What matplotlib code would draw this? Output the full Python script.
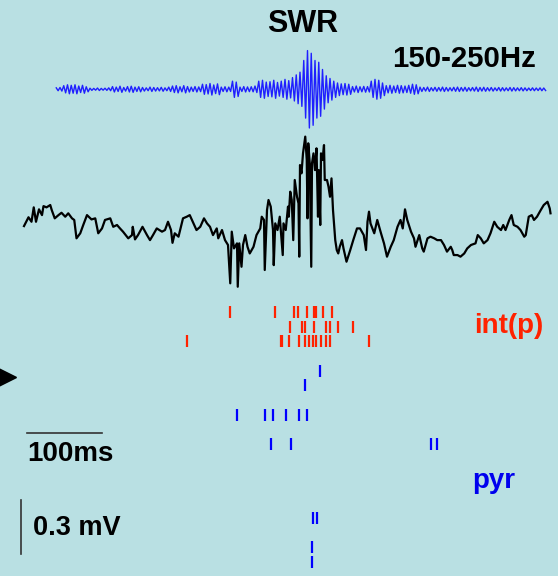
import numpy as np
import matplotlib.pyplot as plt

# broadband LFP around the sharp-wave ripple (time in ms, amplitude in uV)
lfp_t = [0, 6, 10, 13, 16, 20, 24, 26, 30, 35, 37, 41, 46, 50, 55, 59, 64, 67, 70, 75,
         79, 84, 90, 95, 99, 104, 108, 115, 119, 124, 128, 132, 139, 144, 145, 148, 152, 158, 164, 168,
         172, 177, 184, 188, 192, 196, 198, 201, 206, 212, 217, 221, 226, 230, 235, 240, 244, 248, 252, 257,
         259, 264, 268, 272, 275, 277, 280, 284, 285, 287, 290, 292, 295, 298, 301, 306, 310, 315, 317, 320,
         321, 324, 326, 329, 332, 333, 335, 338, 341, 345, 346, 349, 352, 353, 355, 357, 359, 361, 364, 366,
         367, 368, 370, 372, 375, 377, 378, 379, 381, 383, 384, 386, 388, 390, 392, 393, 395, 396, 398, 400,
         401, 404, 406, 408, 410, 412, 415, 417, 419, 421, 424, 426, 430, 435, 439, 444, 448, 453, 456, 458,
         460, 462, 467, 471, 476, 480, 484, 489, 493, 498, 502, 505, 508, 511, 516, 520, 522, 527, 531, 533,
         538, 542, 547, 551, 556, 560, 564, 569, 571, 573, 578, 582, 587, 591, 596, 602, 605, 609, 613, 618,
         622, 627, 631, 636, 639, 642, 647, 650, 653, 658, 662, 667, 669, 673, 677, 680, 684, 689, 693, 698,
         701, 702]
lfp_uv = [22, 71, 46, 126, 46, 115, 83, 133, 126, 139, 111, 65, 83, 96, 74, 93, 65, 56, -46, -18,
          28, 83, 59, 65, -18, 9, 56, 65, 18, 28, 9, -9, -46, -28, 18, -52, -28, 18, -28, -56,
          -28, 9, -9, 0, 46, 0, -71, -18, -37, 65, 74, 83, 37, 0, 18, 65, 37, 18, -28, 9,
          -46, 0, -56, -83, -296, -9, -102, -74, -315, -74, -204, -83, -28, -93, -130, -93, -28, 9, 74, 56,
          -222, 111, 167, 130, 0, -195, 37, 0, 74, -139, 37, 0, 130, 74, 213, 167, -56, 278, 185, 148,
          -148, 361, 315, 426, 519, 389, 65, 482, 371, -204, 371, 426, 333, 454, 74, 333, 28, 426, 389, 472,
          278, 278, 241, 185, 287, 111, -56, -111, -130, -93, -56, -102, -176, -111, -56, 9, 9, -28, -111, 46,
          102, 37, -18, 56, -18, -74, -148, -93, -56, 18, 56, 9, 115, 56, -9, -46, -93, -28, -102, -120,
          -46, -37, -46, -56, -56, -83, -120, -93, -111, -139, -139, -148, -130, -102, -83, -74, -28, -46, -74, -56,
          -18, 46, 18, 0, 28, 0, 56, 83, 28, 18, 0, -37, -28, 74, 83, 56, 74, 111, 139, 157,
          120, 93]

# 150-250 Hz band: peak amplitude of each ripple cycle (uV)
ripple_start = 43   # ms
ripple_period = 5   # ms
ripple_amp = [8, 10,
              20, 25, 22, 25, 18, 22, 14,
              6, 5, 7, 5, 6, 8,
              15, 12, 17, 10, 15, 17, 12, 14,
              10, 8, 12, 10, 9, 11, 8, 12,
              18, 20, 14, 20, 15,
              12, 15, 13,
              28, 26, 32, 24, 30,
              12, 14, 12,
              45, 40,
              12, 15, 13, 14, 18,
              45, 50, 40,
              42, 50, 38, 45, 55, 48,
              65, 80, 95,
              160, 215, 200,
              160, 150, 110,
              75, 60, 45,
              35, 30, 32, 28,
              15, 18, 14, 16, 15,
              45, 55, 50, 35,
              20, 22, 18, 22, 20, 18, 22,
              28, 25,
              12, 10, 12, 9, 11, 10, 12, 10, 9, 11, 12, 10, 11, 9, 10, 12, 10,
              11, 9, 10, 8, 10, 9, 8, 10, 9, 8, 9, 8, 7, 8, 7, 8, 7]

# spike times (ms), one list per unit
int_rows = [0, 1, 2]
int_spikes = [
    [274, 334, 360, 365, 377, 387, 389, 398, 411],
    [355, 371, 375, 386, 402, 408, 419, 439],
    [217, 342, 344, 353, 367, 375, 380, 385, 389, 396, 403, 408, 460],
]
pyr_rows = [4, 5, 7, 9, 14, 16, 17]
pyr_spikes = [
    [394],
    [374],
    [284, 321, 332, 349, 366, 377],
    [329, 356, 543, 550],
    [385, 391],
    [384],
    [384],
]

bg = '#b9e0e3'
plt.rcParams['font.family'] = ['Liberation Sans', 'DejaVu Sans']

fig = plt.figure(figsize=(5.58, 5.76), dpi=100, facecolor=bg)

# traces
ax = fig.add_axes([0, 0, 1, 1])
ax.set_facecolor(bg)
ax.set_xlim(-32, 712)
ax.set_ylim(-1922, 1278)
ax.axis('off')

ax.plot(lfp_t, lfp_uv, color='black', lw=1.6)

k = np.arange(len(ripple_amp))
amp = np.array(ripple_amp)
rt = np.column_stack([ripple_start + k * ripple_period,
                      ripple_start + (k + 0.5) * ripple_period]).ravel()
rv = np.column_stack([amp, -amp]).ravel()
ax.plot(rt, rv + 782, color='#1f1fff', lw=1.0)

# scale bars: 100 ms and 0.3 mV
ax.plot([4, 104], [-1128, -1128], color='#333333', lw=1.2)
ax.plot([-4, -4], [-1800, -1500], color='#333333', lw=1.2)

# rasters
rax = fig.add_axes([0, 0, 1, 1])
rax.patch.set_alpha(0)
rax.set_xlim(-32, 712)
rax.set_ylim(17.96, -21.22)
rax.axis('off')
rax.eventplot(int_spikes, lineoffsets=int_rows, linelengths=0.82,
              colors='#ff2200', linewidths=1.6)
rax.eventplot(pyr_spikes, lineoffsets=pyr_rows, linelengths=0.82,
              colors='#0000ff', linewidths=1.6)
rax.plot(-23, 4.42, marker='>', color='black', markersize=13)


def put(x, y, s, **kw):
    fig.text(x / 558, 1 - y / 576, s, va='baseline', **kw)


put(303, 32, 'SWR', ha='center', fontsize=22, fontweight='bold')
put(392, 67, '150-250Hz', fontsize=21.2, fontweight='bold')
put(474, 333, 'int(p)', fontsize=20, fontweight='bold', color='#ff2200')
put(472, 488, 'pyr', fontsize=20, fontweight='bold', color='#0000ee')
put(27, 461, '100ms', fontsize=20, fontweight='bold')
put(33, 535, '0.3 mV', fontsize=19.5, fontweight='bold')

plt.savefig('out.png', dpi=100, facecolor=bg)
